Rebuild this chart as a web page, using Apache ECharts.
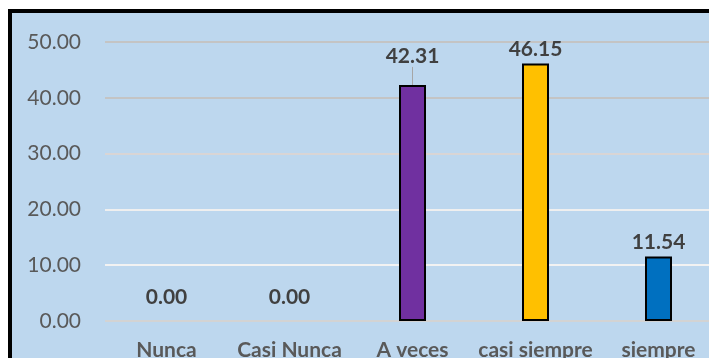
<!DOCTYPE html>
<html><head><meta charset="utf-8">
<script src="https://cdn.jsdelivr.net/npm/echarts@6/dist/echarts.min.js"></script>
<style>html,body{margin:0;padding:0;background:#fff}#c{width:709px;height:358px}</style>
</head><body><div id="c"></div>
<script>
const categories = ['Nunca', 'Casi Nunca', 'A veces', 'casi siempre', 'siempre'];
const values = [0.00, 0.00, 42.31, 46.15, 11.54];
const barColors = ['#7030A0', '#7030A0', '#7030A0', '#FFC000', '#0070C0'];
const labelOffsets = [-9, -9, -14, 0, 0];
const showLeader = [false, false, true, false, false];
const chart = echarts.init(document.getElementById('c'));
chart.setOption({
  animation: false,
  graphic: [
    { type: 'rect', shape: { x: 10, y: 11, width: 720, height: 360 }, style: { fill: '#BDD7EE', stroke: '#000', lineWidth: 4 }, z: -10 }
  ],
  grid: { left: 105, top: 42, width: 615, height: 279, containLabel: false, outerBoundsMode: 'none' },
  xAxis: {
    type: 'category', data: categories,
    axisLine: { show: false }, axisTick: { show: false },
    axisLabel: { interval: 0, hideOverlap: false, color: '#595959', fontSize: 21, fontWeight: 'bold', fontFamily: 'Lato', margin: 19 }
  },
  yAxis: {
    type: 'value', min: 0, max: 50, interval: 10,
    axisLabel: { color: '#595959', fontSize: 21, fontFamily: 'Lato', margin: 24, formatter: v => v.toFixed(2) },
    axisLine: { show: false }, axisTick: { show: false },
    splitLine: { lineStyle: { width: 2, color: ['#D3D3D3', '#F2F2F2', '#EFEFEF', '#D9D5D5', '#C4C4C4', '#C4C4C4'] } }
  },
  series: [{
    type: 'bar', barWidth: 27,
    data: values.map((v, i) => ({
      value: v,
      itemStyle: { color: barColors[i], borderWidth: v === 0 ? 0 : 2 },
      labelLine: { show: showLeader[i] }
    })),
    itemStyle: { borderColor: '#000', borderWidth: 2 },
    label: {
      show: true, position: 'top', distance: 4,
      color: '#404040', fontSize: 21, fontWeight: 'bold', fontFamily: 'Lato',
      formatter: p => p.value.toFixed(2)
    },
    labelLine: { lineStyle: { color: '#A6A6A6', width: 1 } },
    labelLayout: p => ({ dy: labelOffsets[p.dataIndex] })
  }]
});
</script></body></html>
